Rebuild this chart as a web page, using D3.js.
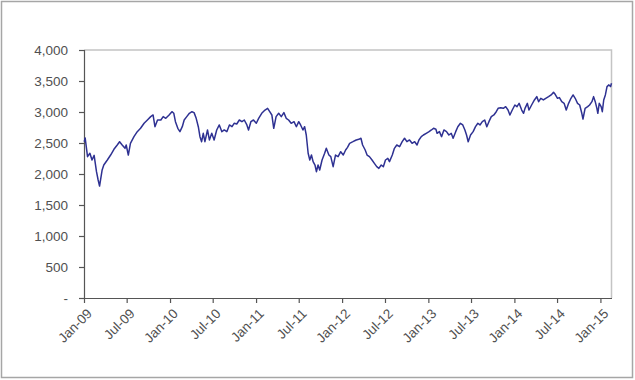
<!DOCTYPE html>
<html>
<head>
<meta charset="utf-8">
<script src="https://cdn.jsdelivr.net/npm/d3@7"></script>
<style>
  html, body { margin: 0; padding: 0; background: #fff; }
  svg { display: block; }
  text { font-family: "Liberation Sans", Arial, sans-serif; }
</style>
</head>
<body>
<svg id="chart" width="635" height="380"></svg>
<script>
// ---- data ----
const dates = [
"2009-01-02","2009-01-06","2009-01-16","2009-01-26","2009-02-04","2009-02-13","2009-02-23","2009-03-02","2009-03-08","2009-03-19","2009-03-26",
"2009-04-10","2009-04-24","2009-05-08","2009-05-22","2009-06-01","2009-06-12","2009-06-24","2009-06-29","2009-07-08","2009-07-17",
"2009-08-01","2009-08-15","2009-08-29","2009-09-13","2009-09-27","2009-10-11","2009-10-21","2009-10-29","2009-11-09","2009-11-23",
"2009-12-03","2009-12-14","2009-12-28","2010-01-09",
"2010-01-17","2010-01-24","2010-02-03","2010-02-12","2010-02-22","2010-03-02","2010-03-13","2010-03-24","2010-04-04","2010-04-13",
"2010-04-22","2010-05-01","2010-05-08","2010-05-15","2010-05-22","2010-05-29","2010-06-09","2010-06-17","2010-06-27","2010-07-07",
"2010-07-18","2010-07-29","2010-08-09","2010-08-19","2010-08-30","2010-09-10","2010-09-21","2010-09-30","2010-10-11","2010-10-22",
"2010-11-02","2010-11-12","2010-11-23","2010-11-30","2010-12-10","2010-12-21","2011-01-02","2011-01-12",
"2011-01-25","2011-02-08","2011-02-19","2011-02-28","2011-03-09","2011-03-17","2011-03-27","2011-04-07","2011-04-18","2011-04-29",
"2011-05-09","2011-05-19","2011-05-30","2011-06-11","2011-06-21","2011-07-01","2011-07-09","2011-07-19","2011-07-26","2011-08-02",
"2011-08-10","2011-08-17","2011-08-24","2011-08-31","2011-09-08","2011-09-14","2011-09-21","2011-09-28","2011-10-08","2011-10-19",
"2011-10-26","2011-11-06","2011-11-14","2011-11-24","2011-12-04","2011-12-15","2011-12-26","2012-01-06","2012-01-16","2012-01-24",
"2012-02-02","2012-02-16","2012-03-01","2012-03-12","2012-03-21","2012-03-28","2012-04-08","2012-04-16","2012-04-26","2012-05-07",
"2012-05-17","2012-05-27","2012-06-05","2012-06-15","2012-06-24","2012-07-03","2012-07-13","2012-07-20","2012-08-01","2012-08-10",
"2012-08-20","2012-09-01","2012-09-12","2012-09-22","2012-10-02","2012-10-13","2012-10-24","2012-11-04","2012-11-14","2012-11-22",
"2012-12-02","2012-12-11","2012-12-23","2013-01-04","2013-01-14","2013-01-23","2013-02-02",
"2013-02-07","2013-02-17","2013-02-26","2013-03-08","2013-03-19","2013-03-29","2013-04-08","2013-04-16","2013-04-27","2013-05-06",
"2013-05-17","2013-05-27","2013-06-05","2013-06-12","2013-06-19","2013-06-29","2013-07-10","2013-07-20","2013-07-30","2013-08-08",
"2013-08-18","2013-08-28","2013-09-06","2013-09-15","2013-09-25","2013-10-06","2013-10-16","2013-10-24","2013-11-04","2013-11-15",
"2013-11-25","2013-12-05","2013-12-13","2013-12-23","2014-01-03","2014-01-12","2014-01-21","2014-02-01","2014-02-09",
"2014-02-15","2014-02-25","2014-03-04","2014-03-15","2014-03-27","2014-04-06","2014-04-14","2014-04-23","2014-05-04","2014-05-14",
"2014-05-26","2014-06-06","2014-06-16","2014-06-23","2014-07-03","2014-07-11","2014-07-21","2014-07-31","2014-08-09","2014-08-19",
"2014-08-29","2014-09-07","2014-09-16","2014-09-26","2014-10-05","2014-10-14","2014-10-19","2014-10-28","2014-11-08","2014-11-16",
"2014-11-26","2014-12-03","2014-12-10","2014-12-17","2014-12-21","2014-12-27","2015-01-04","2015-01-09","2015-01-15","2015-01-22",
"2015-01-29","2015-02-06","2015-02-13","2015-02-17"
];
const values = [
2520,2580,2280,2334,2226,2300,2037,1903,1806,2065,2145,
2226,2306,2398,2468,2521,2468,2414,2468,2306,2495,
2602,2683,2737,2818,2871,2925,2952,2763,2871,2871,
2925,2898,2952,3005,
2979,2844,2737,2683,2763,2871,2925,2979,3005,2990,
2898,2763,2602,2521,2656,2521,2710,2549,2656,2549,
2710,2791,2683,2710,2683,2791,2763,2818,2807,2871,
2844,2871,2791,2710,2844,2871,2818,2898,
2979,3032,3059,3005,2952,2737,2925,2979,2925,2990,
2898,2871,2818,2844,2763,2844,2791,2710,2763,2629,
2334,2226,2306,2199,2145,2037,2145,2065,2226,2334,
2414,2306,2280,2118,2306,2280,2360,2306,2387,2430,
2495,2521,2549,2559,2576,2468,2387,2306,2280,2226,
2172,2118,2091,2145,2118,2226,2253,2199,2306,2414,
2468,2441,2521,2576,2521,2549,2495,2521,2468,2549,
2602,2629,2656,2683,2710,2737,2721,
2656,2683,2602,2710,2683,2629,2656,2576,2683,2763,
2818,2791,2710,2629,2521,2629,2683,2763,2818,2791,
2844,2871,2763,2844,2925,2952,3005,3059,3070,3059,
3086,3032,2952,3032,3113,3086,3140,3032,2979,
3059,3140,3032,3113,3194,3248,3167,3221,3194,3221,
3248,3275,3318,3286,3221,3232,3167,3140,3032,3140,
3221,3275,3221,3140,3113,2979,2887,3059,3086,3113,
3167,3248,3167,3059,2979,3140,3086,3005,3194,3275,
3410,3437,3410,3463
];
const yTicks = [0, 500, 1000, 1500, 2000, 2500, 3000, 3500, 4000];
const yTickLabels = ["-", "500", "1,000", "1,500", "2,000", "2,500", "3,000", "3,500", "4,000"];
const xTickDates = ["2009-01-01","2009-07-01","2010-01-01","2010-07-01","2011-01-01","2011-07-01","2012-01-01",
                    "2012-07-01","2013-01-01","2013-07-01","2014-01-01","2014-07-01","2015-01-01"];
const xTickLabels = ["Jan-09","Jul-09","Jan-10","Jul-10","Jan-11","Jul-11","Jan-12",
                     "Jul-12","Jan-13","Jul-13","Jan-14","Jul-14","Jan-15"];

// ---- drawing ----
const parse = d3.timeParse("%Y-%m-%d");
const series = dates.map((d, i) => ({ date: parse(d), value: values[i] }));
const W = 635, H = 380;
const m = { left: 84, top: 50, right: 611.5, bottom: 298 };

const svg = d3.select("#chart");
svg.append("rect").attr("x", 1.5).attr("y", 1.5).attr("width", W - 4).attr("height", H - 4)
  .attr("fill", "#fff").attr("stroke", "#a6a6a6").attr("stroke-width", 1.5);

const x = d3.scaleTime()
  .domain([parse("2009-01-01"), parse(dates[dates.length - 1])])
  .range([m.left, m.right]);
const y = d3.scaleLinear().domain([0, 4000]).range([m.bottom, m.top]);

// plot border (top & right)
svg.append("path")
  .attr("d", `M${m.left},${m.top}H${m.right}V${m.bottom}`)
  .attr("fill", "none").attr("stroke", "#c4c4c4").attr("stroke-width", 1.5);

const labelFont = "'Liberation Sans', Arial, sans-serif";

// y axis
const yAxis = d3.axisLeft(y).tickValues(yTicks)
  .tickFormat((d, i) => yTickLabels[i]).tickSize(5).tickPadding(11);
const gy = svg.append("g").attr("transform", `translate(${m.left},0)`).call(yAxis);
gy.select(".domain").attr("stroke", "#555").attr("stroke-width", 1.2);
gy.selectAll(".tick line").attr("stroke", "#555").attr("stroke-width", 1.2);
gy.selectAll(".tick text").attr("fill", "#505050").attr("font-size", 13.5)
  .attr("font-family", labelFont);

// x axis
const xTickVals = xTickDates.map(parse);
const xAxis = d3.axisBottom(x).tickValues(xTickVals)
  .tickFormat((d, i) => xTickLabels[i]).tickSize(5).tickSizeOuter(0);
const gx = svg.append("g").attr("transform", `translate(0,${m.bottom})`).call(xAxis);
gx.select(".domain").attr("stroke", "#555").attr("stroke-width", 1.2);
gx.selectAll(".tick line").attr("stroke", "#555").attr("stroke-width", 1.2);
gx.selectAll(".tick text")
  .attr("fill", "#505050").attr("font-size", 13.5)
  .attr("font-family", labelFont)
  .attr("text-anchor", "end")
  .attr("x", 0).attr("y", 0).attr("dy", "0.35em")
  .attr("transform", "translate(5,13) rotate(-45)");

// line
const line = d3.line().x(d => x(d.date)).y(d => y(d.value));
svg.append("path").datum(series)
  .attr("d", line)
  .attr("fill", "none")
  .attr("stroke", "#2e3192")
  .attr("stroke-width", 1.5)
  .attr("stroke-linejoin", "round");
</script>
</body>
</html>
